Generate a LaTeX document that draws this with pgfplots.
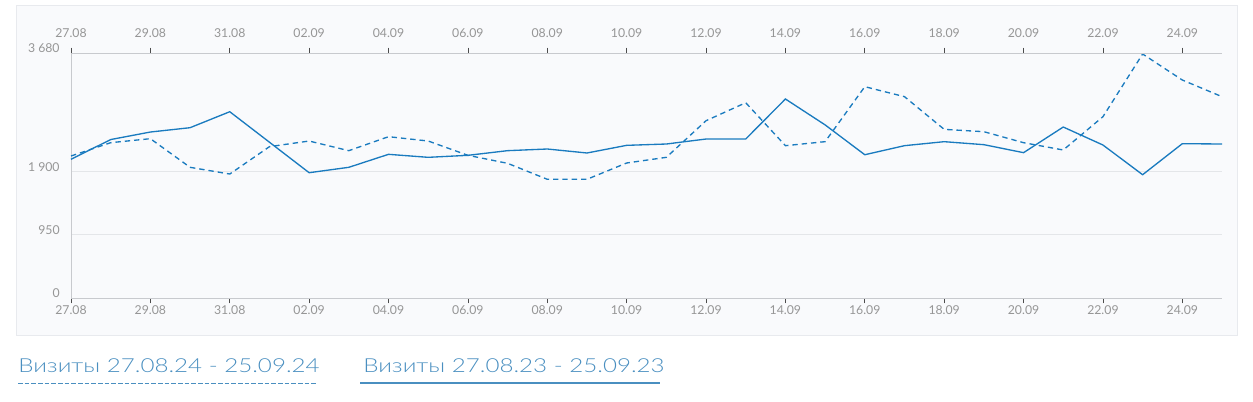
\documentclass[border=0pt]{standalone}
\usepackage{fontspec}
\setmainfont{Lato}
\newfontfamily\legfont{Lato}[UprightFont=* Light, FakeStretch=1.25]
\usepackage{pgfplots}
\pgfplotsset{compat=1.18}
\definecolor{linec}{RGB}{26,123,191}
\definecolor{legc}{RGB}{74,143,192}
\definecolor{tickc}{RGB}{150,150,150}
\definecolor{gridc}{RGB}{228,230,233}
\definecolor{axc}{RGB}{200,202,206}
\definecolor{panelbg}{RGB}{249,250,252}
\definecolor{panelbd}{RGB}{232,234,238}

% day index 0 = 27.08 ... 29 = 25.09
\pgfplotsset{
  visits/.style={
    scale only axis, width=863.25pt, height=183.75pt,
    at={(53.25pt,77.25pt)}, anchor=south west,
    xmin=0, xmax=29, ymin=0, ymax=3680,
    xtick={0,2,...,28},
    xticklabels={27.08,29.08,31.08,02.09,04.09,06.09,08.09,10.09,12.09,14.09,16.09,18.09,20.09,22.09,24.09},
    ticklabel style={font=\fontsize{9.2}{10}\selectfont, text=tickc},
    /pgf/number format/assume math mode=true,
    tick align=outside, major tick length=4pt,
    tick style={draw=black!70, line width=0.5pt},
    axis line style={draw=axc, line width=0.6pt},
  }
}

\begin{document}
\begin{tikzpicture}
\useasboundingbox (0,0) rectangle (939.75pt,300.75pt);
\fill[panelbg, draw=panelbd, line width=0.6pt] (12pt,49.5pt) rectangle (927.75pt,297pt);

\begin{axis}[visits,
  axis x line*=bottom, axis y line*=left,
  ytick={0,950,1900,3680},
  yticklabels={0,950,1 900,3 680},
  yticklabel style={anchor=east, yshift=3.5pt, xshift=-1pt},
  ytick style={draw=none},
  ymajorgrids, grid style={draw=gridc, line width=0.6pt},
  xticklabel style={yshift=2pt},
  clip=false]
\addplot[linec, line width=1pt, dash pattern=on 4pt off 3pt] coordinates {
(0,2133) (1,2333) (2,2393) (3,1963) (4,1862) (5,2273) (6,2358) (7,2213)
(8,2423) (9,2358) (10,2143) (11,2023) (12,1783) (13,1783) (14,2028)
(15,2113) (16,2663) (17,2933) (18,2288) (19,2348) (20,3174) (21,3024)
(22,2533) (23,2498) (24,2333) (25,2223) (26,2723) (27,3665) (28,3274)
(29,3024)};
\addplot[linec, line width=1pt] coordinates {
(0,2083) (1,2380) (2,2493) (3,2558) (4,2798) (5,2340) (6,1882) (7,1963)
(8,2158) (9,2113) (10,2143) (11,2213) (12,2238) (13,2178) (14,2293)
(15,2313) (16,2388) (17,2388) (18,2989) (19,2600) (20,2152) (21,2288)
(22,2348) (23,2303) (24,2183) (25,2568) (26,2298) (27,1852) (28,2318)
(29,2313)};
\end{axis}

\begin{axis}[visits,
  axis x line*=top, axis y line=none,
  xticklabel style={yshift=4pt}]
\end{axis}

% legend
\node[anchor=base west, inner sep=0pt, text=legc, font=\legfont\fontsize{14.5}{16}\selectfont] at (13.5pt,21.75pt) {Визиты 27.08.24 - 25.09.24};
\draw[legc, line width=1pt, dash pattern=on 3.5pt off 1.5pt] (13.5pt,13pt) -- (238.5pt,13pt);
\node[anchor=base west, inner sep=0pt, text=legc, font=\legfont\fontsize{14.5}{16}\selectfont] at (272.25pt,21.75pt) {Визиты 27.08.23 - 25.09.23};
\draw[legc, line width=1pt] (270pt,13.5pt) -- (495pt,13.5pt);
\end{tikzpicture}
\end{document}
